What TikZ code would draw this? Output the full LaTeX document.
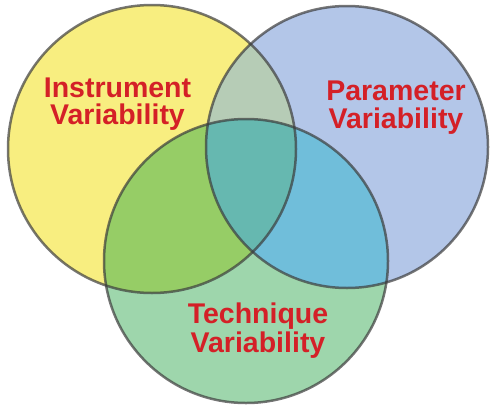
\documentclass[tikz,border=0pt]{standalone}
\usepackage{fontspec}
\setmainfont{Liberation Sans}
\definecolor{cA}{RGB}{248,238,128}
\definecolor{cB}{RGB}{179,198,232}
\definecolor{cC}{RGB}{158,214,172}
\definecolor{cAB}{RGB}{182,204,182}
\definecolor{cAC}{RGB}{150,205,102}
\definecolor{cBC}{RGB}{112,190,218}
\definecolor{cABC}{RGB}{102,184,176}
\definecolor{edge}{RGB}{60,60,60}
\definecolor{lblred}{RGB}{212,32,39}
\tikzset{
  ring/.style={draw=edge, draw opacity=0.7, line width=2.5pt},
  lbl/.style={text=lblred, font=\bfseries\fontsize{28.5}{30}\selectfont, inner sep=0pt, anchor=base}
}
\begin{document}
\begin{tikzpicture}[x=1pt,y=-1pt]
\useasboundingbox (0,0) rectangle (492,407);
\def\cA{(152,149) circle[radius=144]}
\def\cB{(347,147) circle[radius=141]}
\def\cC{(246,261) circle[radius=142]}
\fill[cA] \cA;
\fill[cB] \cB;
\begin{scope}\clip \cA; \fill[cAB] \cB; \end{scope}
\fill[cC] \cC;
\begin{scope}\clip \cA; \fill[cAC] \cC; \end{scope}
\begin{scope}\clip \cB; \fill[cBC] \cC; \end{scope}
\begin{scope}\clip \cA; \clip \cB; \fill[cABC] \cC; \end{scope}
\draw[ring] \cA;
\draw[ring] \cB;
\draw[ring] \cC;
\node[lbl] (ins1) at (117.5,97) {Instrument};
\node[lbl] (ins2) at (117.5,124) {Variability};
\node[lbl] (par1) at (396,100) {Parameter};
\node[lbl] (par2) at (396,128) {Variability};
\node[lbl] (tec1) at (258,323) {Technique};
\node[lbl] (tec2) at (258,352) {Variability};
\end{tikzpicture}
\end{document}
